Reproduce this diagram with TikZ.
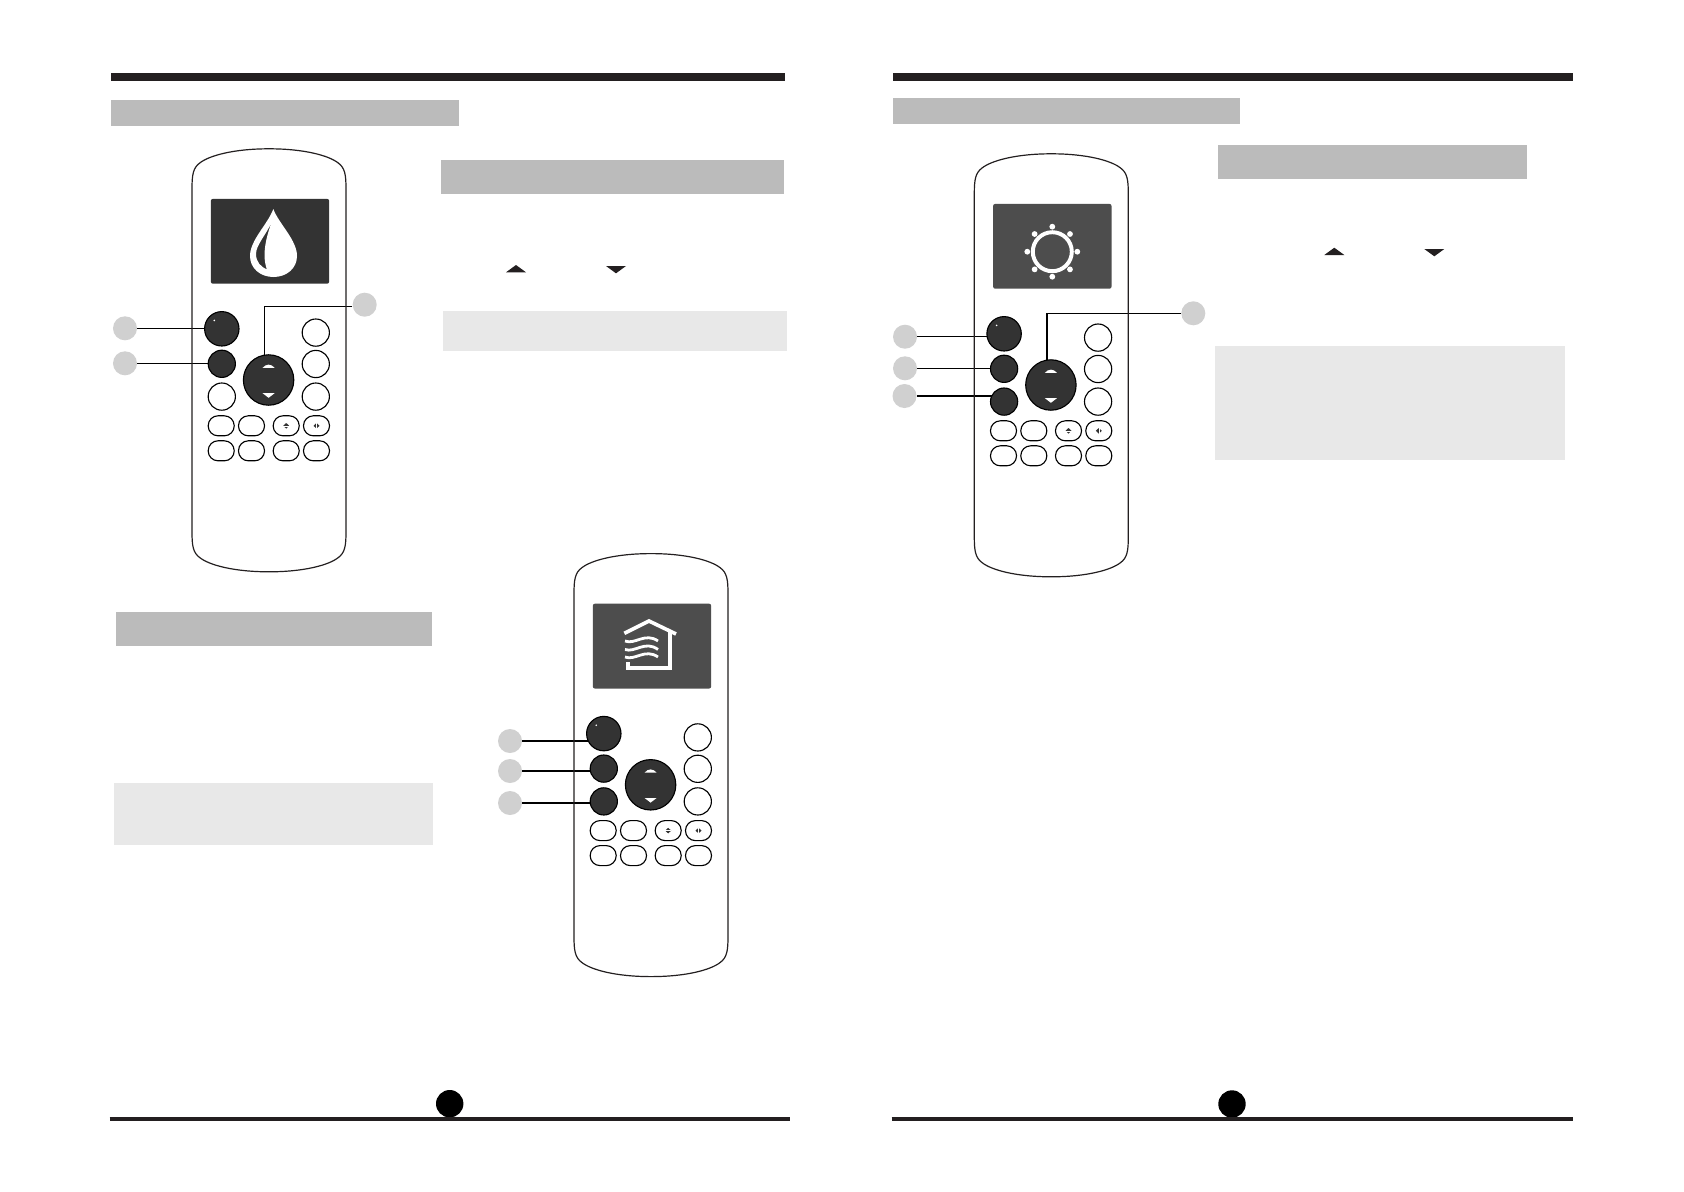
\documentclass[tikz,border=0pt]{standalone}
\usetikzlibrary{backgrounds}
\definecolor{BarBlack}   {RGB}{ 35,  31,  32}
\definecolor{BandGray}   {RGB}{187, 187, 187}
\definecolor{BandLight}  {RGB}{232, 232, 232}
\definecolor{CalloutGray}{RGB}{208, 208, 208}
\definecolor{KeyDark}    {RGB}{ 51,  51,  51}
\definecolor{ScreenDark} {RGB}{ 51,  51,  51}
\definecolor{ScreenMid}  {RGB}{ 77,  77,  77}
\tikzset{
  % Page rules and shaded bands
  topbar/.style={fill=BarBlack},
  footrule/.style={line width=2.2pt, color=BarBlack},
  headband/.style={fill=BandGray},
  noteband/.style={fill=BandLight},
  % Remote outline and keys
  remotebody/.style={line width=0.85pt, color=BarBlack},
  screenbox/.style={
    rectangle, rounded corners=1.5pt,
    fill=#1, minimum width=2.96cm, minimum height=2.12cm
  },
  keybig/.style={
    circle, fill=KeyDark, draw=black, line width=0.8pt,
    minimum size=0.86cm, inner sep=0pt
  },
  keydark/.style={
    circle, fill=KeyDark, draw=black, line width=0.8pt,
    minimum size=0.68cm, inner sep=0pt
  },
  keywhite/.style={
    circle, fill=white, draw=black, line width=0.8pt,
    minimum size=0.68cm, inner sep=0pt
  },
  keynav/.style={
    circle, fill=KeyDark, draw=black, line width=0.8pt,
    minimum size=1.26cm, inner sep=0pt
  },
  keyoval/.style={
    rectangle, rounded corners=7pt, fill=white, draw=black, line width=0.8pt,
    minimum width=0.65cm, minimum height=0.5cm, inner sep=0pt
  },
  % Grey dots and their leader lines
  callout/.style={
    circle, fill=CalloutGray, minimum size=0.6cm, inner sep=0pt
  },
  leader/.style={line width=0.75pt, color=black},
  pagedot/.style={
    circle, fill=black, minimum size=0.685cm, inner sep=0pt
  }
}
% prefix, x, y of the top centre, screen colour, style of third key
\newcommand{\remotepad}[5]{
  \begin{scope}[shift={(#2,#3)}]
    \draw[remotebody]
      (-77,40) .. controls (-77,26) and (-76,19) .. (-69,14)
      .. controls (-60,7) and (-36,0) .. (0,0)
      .. controls (36,0) and (60,7) .. (69,14)
      .. controls (76,19) and (77,26) .. (77,40)
      -- (77,383)
      .. controls (77,397) and (76,404) .. (69,409)
      .. controls (60,416) and (36,423) .. (0,423)
      .. controls (-36,423) and (-60,416) .. (-69,409)
      .. controls (-76,404) and (-77,397) .. (-77,383)
      -- cycle;
    \node[screenbox=#4] (#1screen) at (1,92.5) {};
    \node[keybig]  (#1power) at (-47.2,180) {};
    \node[keydark] (#1mode)  at (-47.2,215) {};
    \node[#5]      (#1third) at (-47.2,247.8) {};
    \node[keynav]  (#1nav)   at (-0.4,231.2) {};
    \node[keywhite] (#1ra) at (46.8,183.8) {};
    \node[keywhite] (#1rb) at (46.8,215.2) {};
    \node[keywhite] (#1rc) at (46.8,247.8) {};
    \node[keyoval] (#1oa) at (-47.8,277) {};
    \node[keyoval] (#1ob) at (-17.5,277) {};
    \node[keyoval] (#1oc) at (17.2,277) {};
    \node[keyoval] (#1od) at (47.5,277) {};
    \node[keyoval] (#1oe) at (-47.8,302) {};
    \node[keyoval] (#1of) at (-17.5,302) {};
    \node[keyoval] (#1og) at (17.2,302) {};
    \node[keyoval] (#1oh) at (47.5,302) {};
    % Small marks on the keys
    \fill[white] (-54.7,171.6) circle (0.9);
    \fill[white] (-6.4,219) -- (5.6,219) .. controls (2,214.8) and (-2.8,214.8) .. cycle;
    \fill[white] (-6.4,244.4) -- (5.6,244.4) -- (-0.4,249) -- cycle;
    \fill[KeyDark] (14.2,277) -- (17.2,274.2) -- (20.2,277) -- (17.2,279.8) -- cycle;
    \fill[KeyDark] (44.5,277) -- (47.5,274.2) -- (50.5,277) -- (47.5,279.8) -- cycle;
    \draw[white, line width=0.25pt] (14,277) -- (20.4,277);
    \draw[white, line width=0.25pt] (47.5,274) -- (47.5,280);
  \end{scope}
}

\begin{document}
\begin{tikzpicture}[x=0.025cm, y=-0.025cm]
  \useasboundingbox (0,0) rectangle (1684,1191);

  % ── PAGE RULES AND BANDS ─────────────────────────────────────────────────
  \fill[topbar] (111,73) rectangle (785,81);
  \fill[topbar] (892.5,73) rectangle (1573,81);

  \fill[headband] (111,100) rectangle (459,125.7);
  \fill[headband] (892.5,98) rectangle (1240,123.7);

  \fill[headband] (441,160) rectangle (784,193.7);
  \fill[noteband] (443.3,311.3) rectangle (786.7,350.7);

  \fill[headband] (116,612.3) rectangle (432,645.7);
  \fill[noteband] (114,783) rectangle (432.7,844.7);

  \fill[headband] (1218,145) rectangle (1527,178.7);
  \fill[noteband] (1215,346) rectangle (1565,460);

  % Up and down marks in the text
  \fill[BarBlack] (506,272.3) -- (516,265) -- (526,272.3) -- cycle;
  \fill[BarBlack] (606,266) -- (626,266) -- (616,273.3) -- cycle;
  \fill[BarBlack] (1324.3,255) -- (1334.3,247.7) -- (1344.3,255) -- cycle;
  \fill[BarBlack] (1424.3,249) -- (1444.3,249) -- (1434.3,256.3) -- cycle;

  % ── REMOTES ──────────────────────────────────────────────────────────────
  \remotepad{dry}{269}{148.8}{ScreenDark}{keywhite}
  \remotepad{fan}{651}{553.6}{ScreenMid}{keydark}
  \remotepad{heat}{1051.3}{153.8}{ScreenMid}{keydark}

  % Drop on the first screen
  \fill[white, even odd rule]
    (273.3,209) .. controls (268,224) and (250,240) .. (250,256)
    .. controls (250,268) and (260,277) .. (273.5,277)
    .. controls (287,277) and (297,268) .. (297,256)
    .. controls (297,240) and (279,224) .. (273.3,209) -- cycle
    (271.7,222) .. controls (266,235) and (256,245) .. (256,254)
    .. controls (256,262) and (261,267) .. (267,269.5)
    .. controls (264,262) and (262,248) .. (271.7,222) -- cycle;

  % House on the second screen
  \draw[white, line width=2.6pt]
    (624.3,633.3) -- (649,621) -- (676,634);
  \draw[white, line width=2.6pt]
    (670,631) -- (670,668.3) -- (628.3,668.3) -- (628.3,661.7);
  \draw[white, line width=2pt] (625,641) .. controls (635,645) and (645,632) .. (658,641);
  \draw[white, line width=2pt] (625,649.5) .. controls (635,653) and (645,640) .. (658,649.5);
  \draw[white, line width=2pt] (625,657) .. controls (635,661) and (645,648) .. (658,657);

  % Sun on the third screen
  \draw[white, line width=2.8pt] (1052.3,251.7) circle (19.5);
  \fill[white] (1052.3,251.7)
    +(0:25) circle (2.9) +(45:25) circle (2.9) +(90:25) circle (2.9)
    +(135:25) circle (2.9) +(180:25) circle (2.9) +(225:25) circle (2.9)
    +(270:25) circle (2.9) +(315:25) circle (2.9);

  % ── CALLOUT DOTS ─────────────────────────────────────────────────────────
  \node[callout] (dry_a) at (125,328.3) {};
  \node[callout] (dry_b) at (125,363.3) {};
  \node[callout] (dry_c) at (364.7,304.7) {};

  \node[callout] (fan_a) at (510,741) {};
  \node[callout] (fan_b) at (510,771) {};
  \node[callout] (fan_c) at (510,803) {};

  \node[callout] (heat_a) at (905,336.7) {};
  \node[callout] (heat_b) at (905,368.3) {};
  \node[callout] (heat_c) at (904.5,396) {};
  \node[callout] (heat_d) at (1193.3,313.3) {};

  \coordinate (dry_elbow) at (264.3,306.7);
  \coordinate (heat_elbow) at (1047,313.3);

  % ── LEADERS ──────────────────────────────────────────────────────────────
  \begin{scope}[on background layer]
    \fill[white] (0,0) rectangle (1684,1191);
    \draw[leader] (dry_a) -- (dry_a -| drypower);
    \draw[leader] (dry_b) -- (dry_b -| drymode);
    \draw[leader] (dry_c.west |- dry_elbow) -- (dry_elbow) -- (dry_elbow |- drynav);
    \draw[leader] (fan_a) -- (fan_a -| fanpower);
    \draw[leader] (fan_b) -- (fan_b -| fanmode);
    \draw[leader] (fan_c) -- (fan_c -| fanthird);
    \draw[leader] (heat_a) -- (heat_a -| heatpower);
    \draw[leader] (heat_b) -- (heat_b -| heatmode);
    \draw[leader] (heat_c) -- (heat_c -| heatthird);
    \draw[leader] (heat_d) -- (heat_elbow) -- (heat_elbow |- heatnav);
  \end{scope}

  % ── FOOTER ───────────────────────────────────────────────────────────────
  \node[pagedot] (page_left) at (449.7,1103.7) {};
  \node[pagedot] (page_right) at (1232,1104) {};
  \draw[footrule] (109.5,1119) -- (790,1119);
  \draw[footrule] (891.5,1119) -- (1573,1119);

\end{tikzpicture}
\end{document}
